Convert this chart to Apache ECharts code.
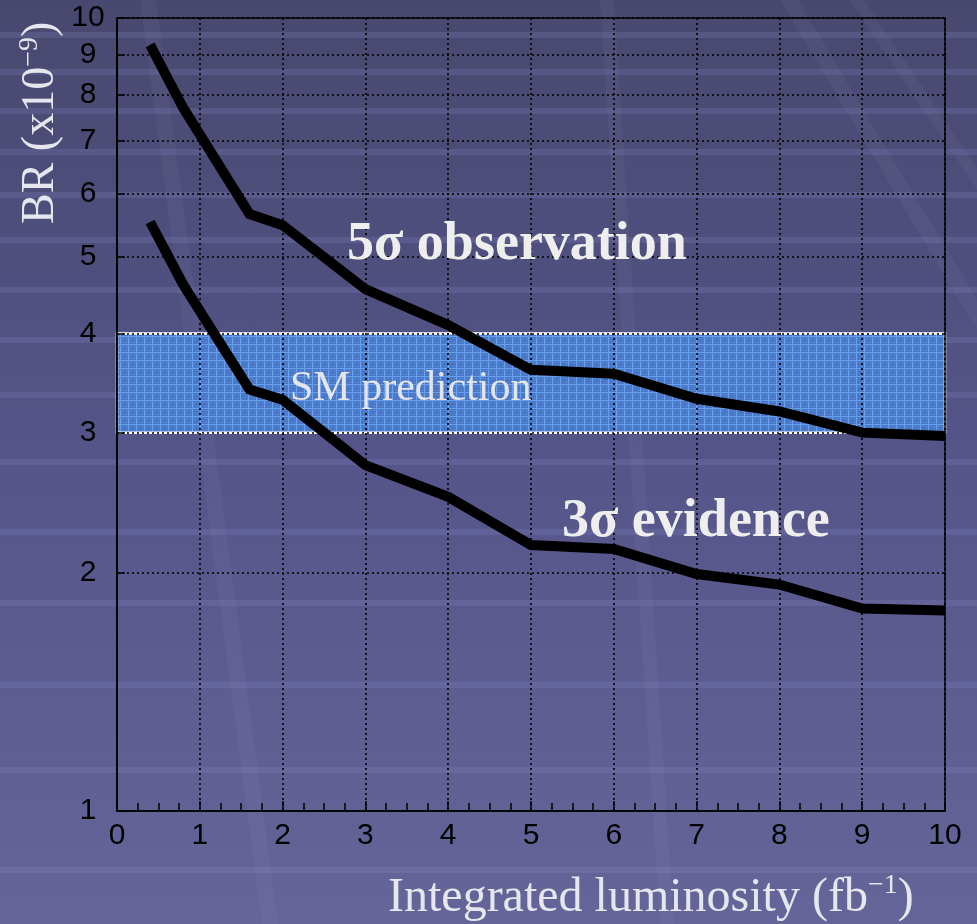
<!DOCTYPE html>
<html>
<head>
<meta charset="utf-8">
<script src="https://cdn.jsdelivr.net/npm/echarts@6/dist/echarts.min.js"></script>
<style>
html,body{margin:0;padding:0;}
body{width:977px;height:924px;background:linear-gradient(180deg,#48486f 0%,#55558a 50%,#65659a 100%);overflow:hidden;}
#c{width:977px;height:924px;}
</style>
</head>
<body>
<div id="c"></div>
<script>
// ---- data ----
const lumi = [0.4, 0.8, 1.6, 2, 3, 4, 5, 6, 7, 8, 9, 10];
const obs5sigma = [9.25, 7.7, 5.66, 5.48, 4.55, 4.1, 3.6, 3.56, 3.31, 3.19, 3.0, 2.97];
const evid3sigma = [5.53, 4.61, 3.40, 3.30, 2.73, 2.49, 2.165, 2.14, 1.99, 1.93, 1.80, 1.79];
const smBand = [3, 4];
const xTickLabels = [0, 1, 2, 3, 4, 5, 6, 7, 8, 9, 10];
const yTickLabels = [1, 2, 3, 4, 5, 6, 7, 8, 9, 10];
const stripeRows = [35, 72, 111, 152, 195, 240, 290, 340, 395, 462, 532, 603, 685, 770, 870];

// band texture
function makePattern() {
  const cv = document.createElement('canvas');
  cv.width = 8; cv.height = 8;
  const g = cv.getContext('2d');
  g.fillStyle = '#4a78c6'; g.fillRect(0, 0, 8, 8);
  g.fillStyle = '#5786d3';
  for (let i = 0; i < 8; i += 2) for (let j = 0; j < 8; j += 2) g.fillRect(i + ((j / 2) % 2), j, 1, 1);
  g.fillStyle = '#3f6bb5';
  g.fillRect(4, 4, 1, 1); g.fillRect(2, 6, 1, 1);
  g.fillStyle = '#66a0ee';
  g.fillRect(0, 0, 8, 1); g.fillRect(0, 0, 1, 8);
  return cv;
}

const chart = echarts.init(document.getElementById('c'), null, {renderer: 'canvas'});
const sans = '"Liberation Sans", Arial, sans-serif';
const serif = '"Liberation Serif", "Times New Roman", serif';

const graphics = stripeRows.map(y => ({
  type: 'rect', z: -100, silent: true,
  shape: {x: 0, y: y - 3, width: 977, height: 6},
  style: {fill: 'rgba(135,135,200,0.22)'}
}));

// faint diagonal streaks of the slide background
[[140, 0, 262, 924, 16], [600, 0, 660, 924, 14], [780, 0, 977, 330, 18], [850, 0, 977, 190, 14]].forEach(s => {
  graphics.push({
    type: 'polygon', z: -90, silent: true,
    shape: {points: [[s[0], s[1]], [s[0] + s[4], s[1]], [s[2] + s[4], s[3]], [s[2], s[3]]]},
    style: {fill: 'rgba(200,200,230,0.05)'}
  });
});

graphics.push(
  {
    type: 'text', x: 66, y: 224, rotation: Math.PI / 2, z: 10,
    style: {
      text: '{a|BR (x10}{s|−9}{a|)}',
      textAlign: 'left', textVerticalAlign: 'bottom',
      rich: {
        a: {fontFamily: serif, fontSize: 46, fill: '#e6e6ee', lineHeight: 50},
        s: {fontFamily: serif, fontSize: 28, fill: '#e6e6ee', verticalAlign: 'top', lineHeight: 50}
      }
    }
  },
  {
    type: 'text', x: 388, y: 924, z: 10,
    style: {
      text: '{a|Integrated luminosity (fb}{s|−1}{a|)}',
      textAlign: 'left', textVerticalAlign: 'bottom',
      rich: {
        a: {fontFamily: serif, fontSize: 48, fill: '#e6e6ee', lineHeight: 52},
        s: {fontFamily: serif, fontSize: 28, fill: '#e6e6ee', verticalAlign: 'top', lineHeight: 52}
      }
    }
  },
  {
    type: 'text', x: 347, y: 218, z: 10,
    style: {text: '5σ observation', font: 'bold 54px ' + serif, fill: '#eeeeee', textAlign: 'left', textVerticalAlign: 'top'}
  },
  {
    type: 'text', x: 562, y: 495, z: 10,
    style: {text: '3σ evidence', font: 'bold 54px ' + serif, fill: '#eeeeee', textAlign: 'left', textVerticalAlign: 'top'}
  },
  {
    type: 'text', x: 290, y: 368, z: 10,
    style: {text: 'SM prediction', font: '42px ' + serif, fill: '#e4e4ec', textAlign: 'left', textVerticalAlign: 'top'}
  }
);

const dotted = {color: '#000', width: 1.6, type: [2, 3]};

chart.setOption({
  backgroundColor: 'transparent',
  animation: false,
  grid: {left: 117, right: 32, top: 18, bottom: 113, show: true, borderColor: '#000', borderWidth: 1.5, backgroundColor: 'transparent'},
  xAxis: {
    type: 'value', min: 0, max: 10, interval: 1,
    axisLine: {show: true, lineStyle: {color: '#000', width: 1.5}},
    axisTick: {show: true, inside: true, length: 10, lineStyle: {color: '#000', width: 1.5}, customValues: xTickLabels},
    minorTick: {show: true, splitNumber: 4, length: 8, lineStyle: {color: '#000', width: 1.5}},
    splitLine: {show: true, lineStyle: dotted},
    axisLabel: {color: '#000', fontFamily: sans, fontSize: 30, margin: 10, customValues: xTickLabels}
  },
  yAxis: {
    type: 'log', logBase: 10, min: 1, max: 10,
    axisLine: {show: true, lineStyle: {color: '#000', width: 1.5}},
    axisTick: {show: true, inside: true, length: 8, lineStyle: {color: '#000', width: 1.5}, customValues: yTickLabels},
    splitLine: {show: true, lineStyle: dotted},
    axisLabel: {color: '#000', fontFamily: sans, fontSize: 30, margin: 29, align: 'center', customValues: yTickLabels}
  },
  graphic: graphics,
  series: [
    {
      type: 'line', z: -1, data: [], silent: true,
      markArea: {
        silent: true, z: -1,
        itemStyle: {color: {image: makePattern(), repeat: 'repeat'}, borderColor: '#ffffff', borderWidth: 2.5},
        data: [[{xAxis: 0, yAxis: smBand[0]}, {xAxis: 10, yAxis: smBand[1]}]]
      }
    },
    {
      type: 'line', name: '5σ observation', data: lumi.map((x, i) => [x, obs5sigma[i]]),
      showSymbol: false, lineStyle: {color: '#000', width: 10, cap: 'butt', join: 'miter'}, z: 5
    },
    {
      type: 'line', name: '3σ evidence', data: lumi.map((x, i) => [x, evid3sigma[i]]),
      showSymbol: false, lineStyle: {color: '#000', width: 10, cap: 'butt', join: 'miter'}, z: 5
    }
  ]
});
</script>
</body>
</html>
